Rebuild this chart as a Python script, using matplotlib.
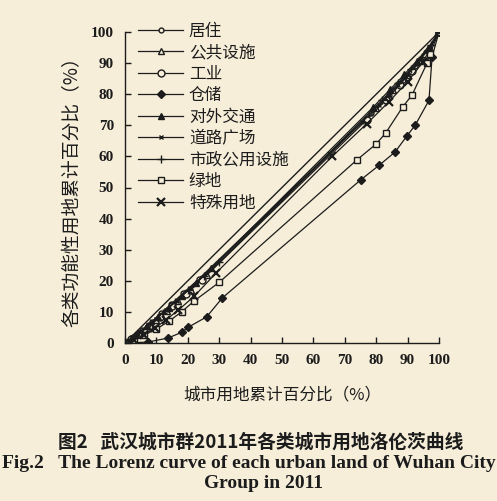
# -*- coding: utf-8 -*-
import matplotlib
matplotlib.use('Agg')
import matplotlib.pyplot as plt

# 累计百分比 (x: 城市用地, y: 各类功能性用地)
names = ['居住', '公共设施', '工业', '仓储', '对外交通', '道路广场', '市政公用设施', '绿地', '特殊用地']

x_juzhu = [0, 2.5, 5.5, 8.5, 11.5, 14.5, 18.5, 23.5, 78.5, 84, 88.5, 92.5, 96, 100]
y_juzhu = [0, 1.8, 4.2, 6.8, 9.6, 12.4, 16.0, 20.6, 74.0, 79.8, 84.6, 89.0, 93.5, 100]

x_gonggong = [0, 3, 6.5, 10, 13.5, 17, 21, 26, 80, 85.5, 90, 94, 97, 100]
y_gonggong = [0, 2.0, 4.6, 7.4, 10.4, 13.5, 17.2, 21.9, 75.5, 81.3, 86.2, 90.8, 94.8, 100]

x_gongye = [0, 2, 4.5, 7.5, 11, 15, 19.5, 24.5, 77, 83, 87.5, 91.5, 95.5, 100]
y_gongye = [0, 1.2, 3.0, 5.4, 8.3, 11.8, 15.8, 20.3, 71.8, 78.0, 83.0, 87.6, 92.4, 100]

x_cangchu = [0, 7.3, 13.7, 18.2, 20, 26, 31, 75, 81, 86, 89.8, 92.4, 96.8, 97.8, 100]
y_cangchu = [0, 0.3, 1.6, 3.5, 5.0, 8.4, 14.5, 52.4, 57.2, 61.4, 66.6, 70.0, 78.0, 92.0, 100]

x_duiwai = [0, 3.5, 7, 10.5, 14, 18, 22.5, 27.5, 79, 84.5, 89, 93, 96.5, 100]
y_duiwai = [0, 2.6, 5.4, 8.4, 11.4, 15.0, 19.2, 24.0, 75.8, 81.6, 86.4, 90.8, 94.9, 100]

x_daolu = [0, 1.5, 4, 7, 10, 13, 16.5, 21, 75.5, 81, 84, 87, 90, 93, 96.5, 100]
y_daolu = [0, 1.0, 2.8, 5.2, 7.8, 10.5, 13.6, 17.8, 71.0, 76.6, 79.7, 83.0, 86.3, 89.8, 94.2, 100]

x_shizheng = [0, 4, 8, 12, 16, 20, 25, 30, 82, 87, 91, 94.5, 97.5, 100]
y_shizheng = [0, 3.1, 6.4, 9.8, 13.3, 16.9, 21.4, 25.9, 78.2, 83.6, 88.0, 92.0, 95.8, 100]

x_lvdi = [0, 3, 6, 10, 14, 18, 22, 30, 74, 80, 83, 88.5, 91.4, 96.2, 97.1, 100]
y_lvdi = [0, 1.0, 2.5, 4.5, 7.0, 10.0, 13.5, 19.5, 59.0, 64.0, 67.5, 76.0, 79.7, 90.0, 93.0, 100]

x_teshu = [0, 3, 6, 9.5, 13, 17, 22, 29, 66, 77, 84, 90, 95, 100]
y_teshu = [0, 1.0, 2.6, 4.8, 7.4, 10.6, 15.0, 22.5, 60.0, 70.5, 77.5, 84.0, 90.5, 100]

ticks = [0, 10, 20, 30, 40, 50, 60, 70, 80, 90, 100]

bg = '#f6eed9'
ink = '#1c1c1c'

plt.rcParams['font.family'] = ['Noto Sans CJK SC', 'DejaVu Sans']

fig = plt.figure(figsize=(4.97, 5.01), dpi=100, facecolor=bg)
ax = fig.add_axes([125 / 497, 1 - 343 / 501, 314 / 497, 311 / 501])
ax.set_facecolor(bg)

# 绝对平均线
ax.plot([0, 100], [0, 100], color=ink, lw=1.0)

series = [
    (x_juzhu, y_juzhu, dict(marker='o', ms=3.5, mfc=bg)),
    (x_gonggong, y_gonggong, dict(marker='^', ms=4, mfc=bg)),
    (x_gongye, y_gongye, dict(marker='o', ms=5, mfc=bg)),
    (x_cangchu, y_cangchu, dict(marker='D', ms=4, mfc=ink)),
    (x_duiwai, y_duiwai, dict(marker='^', ms=5, mfc=ink)),
    (x_daolu, y_daolu, dict(marker='x', ms=3.5)),
    (x_shizheng, y_shizheng, dict(marker='+', ms=6)),
    (x_lvdi, y_lvdi, dict(marker='s', ms=5, mfc=bg)),
    (x_teshu, y_teshu, dict(marker='x', ms=5.5, mew=1.6)),
]
for (xs, ys, st), name in zip(series, names):
    ax.plot(xs, ys, color=ink, lw=0.9, mec=ink, label=name, **st)

ax.set_xlim(0, 100)
ax.set_ylim(0, 100)
ax.set_xticks(ticks)
ax.set_yticks(ticks)
ax.spines['top'].set_visible(False)
ax.spines['right'].set_visible(False)
for s in ['left', 'bottom']:
    ax.spines[s].set_color(ink)
    ax.spines[s].set_linewidth(1.0)
ax.tick_params(direction='in', length=4, width=1, colors=ink, pad=8)
for lab in ax.get_xticklabels() + ax.get_yticklabels():
    lab.set_family('Liberation Serif')
    lab.set_fontweight('bold')
    lab.set_fontsize(11)

ax.set_xlabel('城市用地累计百分比（%）', fontsize=12, color=ink, labelpad=14)
ax.set_ylabel('各类功能性用地累计百分比（%）', fontsize=13.5, color=ink, labelpad=6)

leg = ax.legend(loc='upper left', bbox_to_anchor=(13 / 314, 1.03), frameon=False,
                fontsize=12, borderpad=0, borderaxespad=0, handlelength=2.7,
                handletextpad=0.35, labelspacing=0.27)
for t in leg.get_texts():
    t.set_color(ink)

fig.text(0.525, 1 - 442 / 501, '图2   武汉城市群2011年各类城市用地洛伦茨曲线',
         ha='center', va='center', fontsize=13.5, fontweight='bold', color=ink)
fig.text(0.5, 1 - 463 / 501, 'Fig.2   The Lorenz curve of each urban land of Wuhan City',
         ha='center', va='center', fontsize=14, fontweight='bold', color=ink,
         family='Liberation Serif')
fig.text(0.53, 1 - 483 / 501, 'Group in 2011',
         ha='center', va='center', fontsize=14, fontweight='bold', color=ink,
         family='Liberation Serif')

fig.savefig('out.png', dpi=100, facecolor=bg)
